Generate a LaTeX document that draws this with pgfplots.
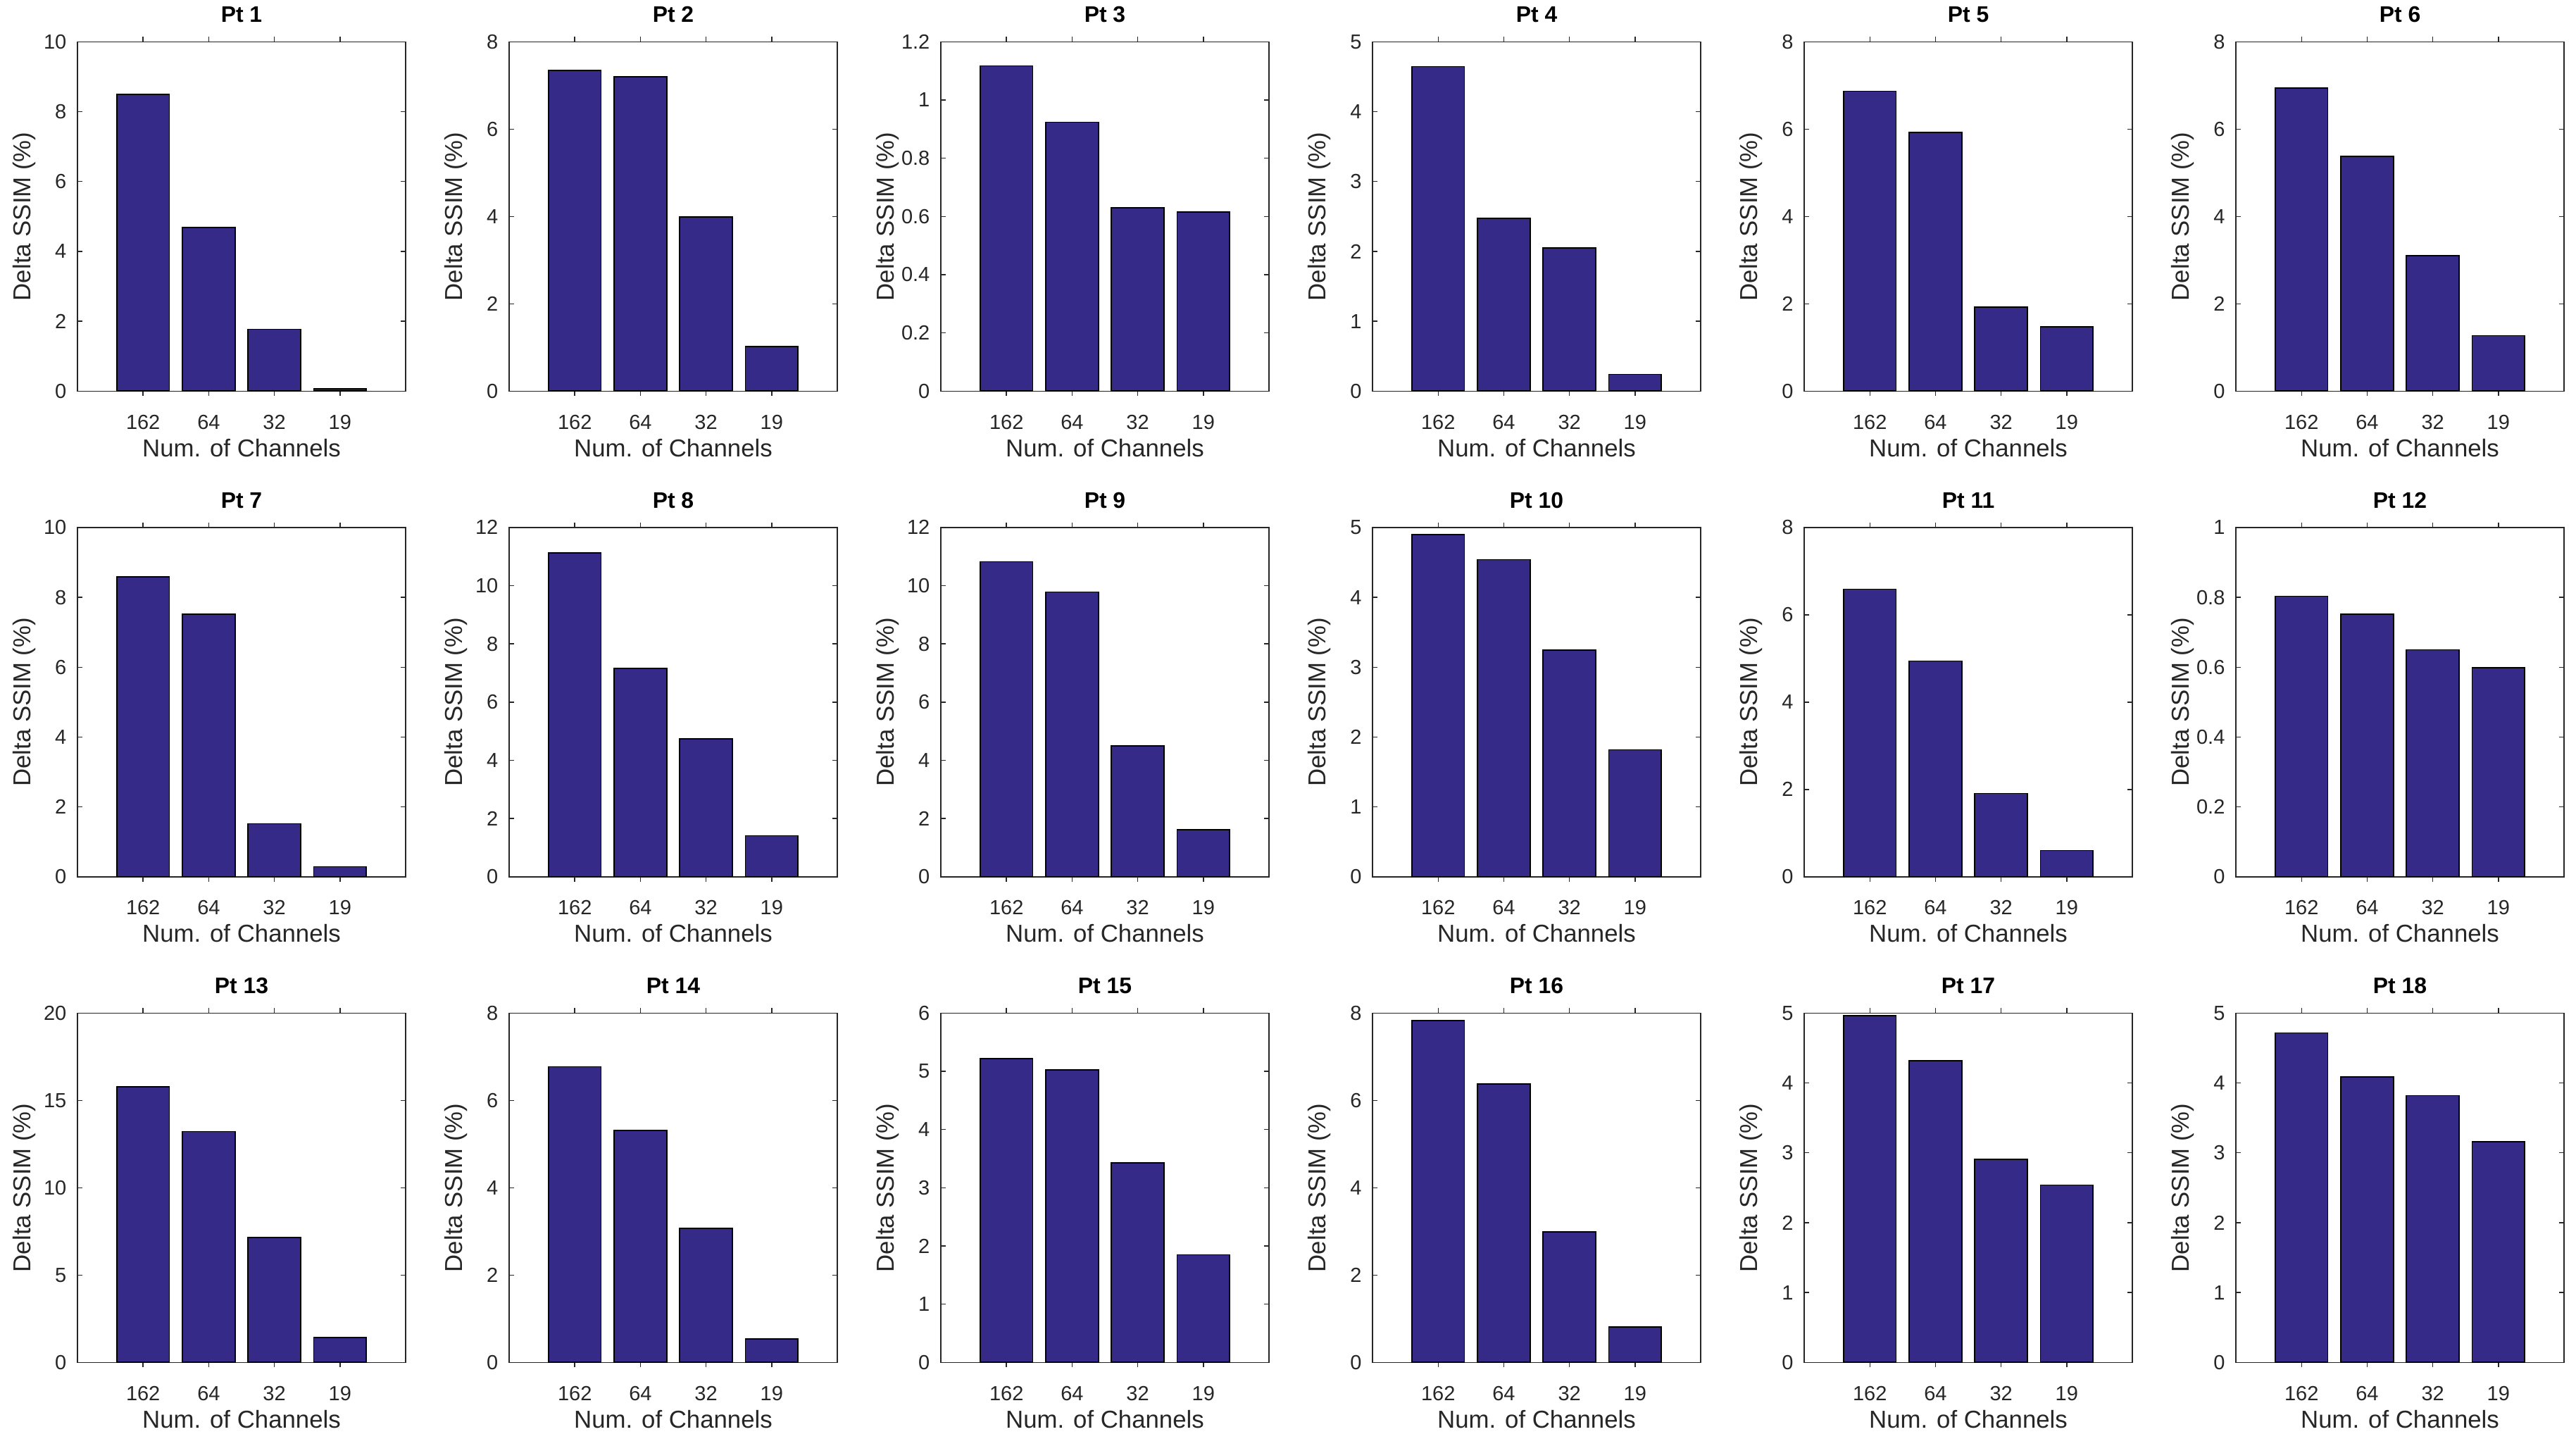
\documentclass[border=0pt]{standalone}
\usepackage{fontspec}
\setmainfont{Liberation Sans}
\usepackage{pgfplots}
\pgfplotsset{compat=1.18}
\usepgfplotslibrary{groupplots}
\definecolor{barc}{RGB}{53,42,135}
\definecolor{axc}{RGB}{38,38,38}
\pgfplotsset{
  panel/.style={
    scale only axis, width=160.77pt, height=171.12pt,
    xmin=0, xmax=5, ymin=0,
    xtick={1,2,3,4}, xticklabels={162,64,32,19},
    tick align=inside, major tick length=2.4pt,
    tick style={axc, line width=0.5pt},
    axis line style={axc, line width=0.5pt},
    /pgf/number format/assume math mode=true,
    /pgf/number format/fixed,
    ticklabel style={font=\fontsize{10}{12}\selectfont, text=axc},
    xticklabel style={anchor=base, yshift=-16.2pt},
    yticklabel style={anchor=east, inner sep=0pt, xshift=-5.2pt},
    xlabel={Num. of Channels},
    ylabel={Delta SSIM (\%)},
    xlabel style={at={(axis description cs:0.5,-0.18759)}, anchor=base, font=\fontsize{12}{14}\selectfont, text=axc},
    ylabel style={at={(axis description cs:-0.1437,0.5)}, anchor=base, rotate=0, font=\fontsize{12}{14}\selectfont, text=axc},
    title style={at={(axis description cs:0.5,1.02016)}, anchor=base, font=\bfseries\fontsize{11}{13}\selectfont, text=black},
    ybar, bar width=0.8,
  },
  bars/.style={fill=barc, draw=black, line width=0.6pt},
}
\begin{document}
\begin{tikzpicture}
\begin{groupplot}[group style={group size=6 by 3, horizontal sep=50.72pt, vertical sep=66.76pt, group name=G}, panel]
% Row 1
\nextgroupplot[title={Pt 1}, ymax=10, ytick={0,2,4,6,8,10}]
\coordinate (tl) at (rel axis cs:0,1);
\addplot[bars] coordinates {(1,8.49) (2,4.68) (3,1.77) (4,0.07)};
\nextgroupplot[title={Pt 2}, ymax=8, ytick={0,2,4,6,8}]
\addplot[bars] coordinates {(1,7.34) (2,7.20) (3,3.99) (4,1.02)};
\nextgroupplot[title={Pt 3}, ymax=1.2, ytick={0,0.2,0.4,0.6,0.8,1,1.2}]
\addplot[bars] coordinates {(1,1.117) (2,0.924) (3,0.630) (4,0.615)};
\nextgroupplot[title={Pt 4}, ymax=5, ytick={0,1,2,3,4,5}]
\addplot[bars] coordinates {(1,4.645) (2,2.47) (3,2.046) (4,0.24)};
\nextgroupplot[title={Pt 5}, ymax=8, ytick={0,2,4,6,8}]
\addplot[bars] coordinates {(1,6.87) (2,5.93) (3,1.92) (4,1.47)};
\nextgroupplot[title={Pt 6}, ymax=8, ytick={0,2,4,6,8}]
\addplot[bars] coordinates {(1,6.94) (2,5.38) (3,3.10) (4,1.27)};
% Row 2
\nextgroupplot[title={Pt 7}, ymax=10, ytick={0,2,4,6,8,10}]
\addplot[bars] coordinates {(1,8.58) (2,7.52) (3,1.52) (4,0.29)};
\nextgroupplot[title={Pt 8}, ymax=12, ytick={0,2,4,6,8,10,12}]
\addplot[bars] coordinates {(1,11.12) (2,7.15) (3,4.74) (4,1.41)};
\nextgroupplot[title={Pt 9}, ymax=12, ytick={0,2,4,6,8,10,12}]
\addplot[bars] coordinates {(1,10.82) (2,9.78) (3,4.49) (4,1.62)};
\nextgroupplot[title={Pt 10}, ymax=5, ytick={0,1,2,3,4,5}]
\addplot[bars] coordinates {(1,4.90) (2,4.54) (3,3.245) (4,1.817)};
\nextgroupplot[title={Pt 11}, ymax=8, ytick={0,2,4,6,8}]
\addplot[bars] coordinates {(1,6.585) (2,4.94) (3,1.91) (4,0.60)};
\nextgroupplot[title={Pt 12}, ymax=1, ytick={0,0.2,0.4,0.6,0.8,1}]
\addplot[bars] coordinates {(1,0.803) (2,0.752) (3,0.650) (4,0.598)};
% Row 3
\nextgroupplot[title={Pt 13}, ymax=20, ytick={0,5,10,15,20}]
\addplot[bars] coordinates {(1,15.79) (2,13.22) (3,7.14) (4,1.43)};
\nextgroupplot[title={Pt 14}, ymax=8, ytick={0,2,4,6,8}]
\addplot[bars] coordinates {(1,6.77) (2,5.31) (3,3.07) (4,0.54)};
\nextgroupplot[title={Pt 15}, ymax=6, ytick={0,1,2,3,4,5,6}]
\addplot[bars] coordinates {(1,5.215) (2,5.02) (3,3.43) (4,1.85)};
\nextgroupplot[title={Pt 16}, ymax=8, ytick={0,2,4,6,8}]
\addplot[bars] coordinates {(1,7.83) (2,6.38) (3,2.99) (4,0.81)};
\nextgroupplot[title={Pt 17}, ymax=5, ytick={0,1,2,3,4,5}]
\addplot[bars] coordinates {(1,4.96) (2,4.32) (3,2.91) (4,2.54)};
\nextgroupplot[title={Pt 18}, ymax=5, ytick={0,1,2,3,4,5}]
\coordinate (br) at (rel axis cs:1,0);
\addplot[bars] coordinates {(1,4.715) (2,4.085) (3,3.82) (4,3.16)};
\end{groupplot}
\path ([xshift=-37.95pt,yshift=18.29pt]tl) rectangle ([xshift=5.87pt,yshift=-40.71pt]br);
\end{tikzpicture}
\end{document}
